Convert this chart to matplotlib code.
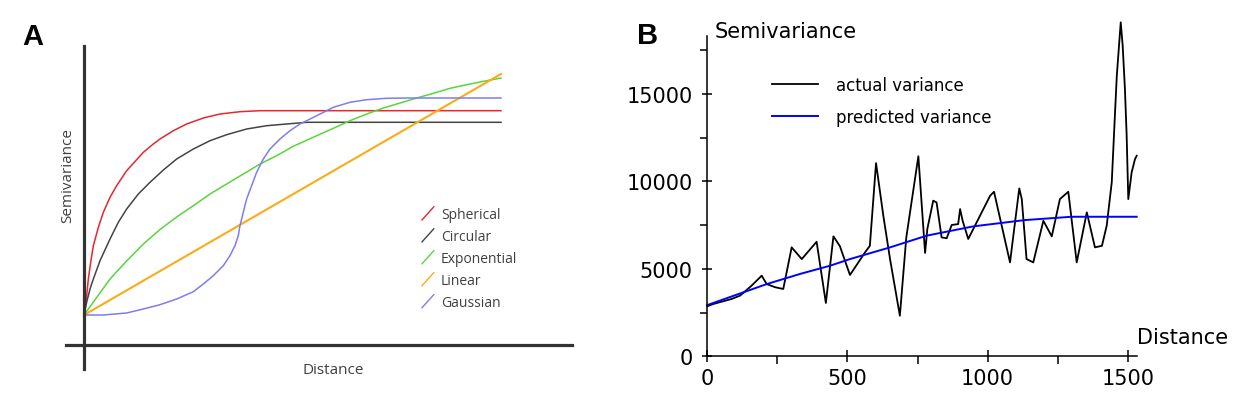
import matplotlib
matplotlib.use("Agg")
import matplotlib.pyplot as plt
from matplotlib.lines import Line2D
from matplotlib.legend_handler import HandlerBase

# ---- panel A: theoretical semivariogram models ----
spherical_d = [0, 0.048, 0.104, 0.16, 0.224, 0.344, 0.464, 0.624, 0.783, 1.023, 1.263,
               1.423, 1.663, 1.823, 2.143, 2.462, 2.862, 3.262, 3.741, 4.221, 10]
spherical_s = [3.0, 4.27, 6.6, 8.27, 9.93, 11.77, 13.27, 14.77, 15.93, 17.43, 18.53,
               19.27, 20.1, 20.6, 21.43, 22.1, 22.7, 23.1, 23.33, 23.43, 23.43]

circular_d = [0, 0.064, 0.144, 0.224, 0.384, 0.624, 0.823, 1.023, 1.303, 1.583, 1.903,
              2.222, 2.622, 3.022, 3.421, 3.901, 4.381, 4.861, 5.34, 10]
circular_s = [3.0, 4.27, 5.6, 6.6, 8.43, 10.6, 12.27, 13.6, 15.1, 16.27, 17.5,
              18.6, 19.6, 20.43, 21.03, 21.6, 21.93, 22.1, 22.27, 22.27]

exponential_d = [0, 0.624, 1.023, 1.423, 1.823, 2.222, 2.622, 3.022, 3.421, 3.821,
                 4.221, 4.62, 5.02, 5.58, 5.98, 6.38, 6.78, 7.18, 7.58, 7.98, 8.38,
                 8.78, 9.18, 9.58, 10]
exponential_s = [3.0, 6.6, 8.4, 10.1, 11.55, 12.8, 13.93, 15.1, 16.1, 17.1,
                 18.1, 18.93, 19.87, 20.93, 21.67, 22.43, 23.1, 23.7, 24.2, 24.7, 25.17,
                 25.67, 26.03, 26.37, 26.7]

linear_d = [0, 10]
linear_s = [3.0, 27.1]

gaussian_d = [0, 0.464, 1.023, 1.423, 1.823, 2.222, 2.622, 2.862, 3.10, 3.34, 3.50,
              3.62, 3.70, 3.74, 3.82, 3.90, 4.02, 4.14, 4.30, 4.46, 4.70, 4.94, 5.18,
              5.58, 5.98, 6.38, 6.78, 7.26, 7.8, 10]
gaussian_s = [3.0, 3.0, 3.2, 3.6, 4.03, 4.6, 5.33, 6.1, 6.93, 7.93, 8.93,
              9.93, 10.93, 11.93, 13.27, 14.6, 15.93, 17.27, 18.6, 19.6, 20.6, 21.43, 22.1,
              22.93, 23.77, 24.27, 24.53, 24.67, 24.7, 24.7]

model_names = ["Spherical", "Circular", "Exponential", "Linear", "Gaussian"]
model_colors = ["#e8262e", "#444444", "#5ad43c", "#fbab17", "#7d7df0"]

# ---- panel B: empirical vs fitted semivariance ----
actual_dist = [0, 21, 87, 117, 158, 194, 212, 242, 271, 301, 337, 390, 423, 450,
               473, 509, 563, 580, 602, 628, 652, 687, 710, 753, 777, 785, 806,
               818, 836, 854, 872, 895, 902, 911, 931, 1009, 1023, 1080, 1113,
               1122, 1139, 1163, 1199, 1229, 1258, 1288, 1318, 1354, 1383, 1408,
               1425, 1443, 1455, 1461, 1475, 1482, 1490, 1496, 1502, 1514, 1526, 1532]
actual_var = [2860, 2990, 3280, 3470, 4040, 4610, 4130, 3950, 3850, 6230, 5560,
              6550, 3050, 6860, 6300, 4650, 5950, 6320, 11050, 8040, 5560, 2320,
              6800, 11440, 5910, 7280, 8900, 8800, 6800, 6750, 7510, 7560, 8420,
              7750, 6710, 9180, 9410, 5370, 9600, 8990, 5560, 5370, 7750, 6860,
              8990, 9410, 5370, 8230, 6230, 6320, 7470, 9950, 14040, 16040, 19100,
              17760, 15280, 12710, 8990, 10520, 11280, 11470]

pred_dist = [0, 129, 212, 331, 438, 509, 652, 783, 949, 1133, 1300, 1532]
pred_var = [2930, 3660, 4130, 4710, 5180, 5560, 6230, 6900, 7430, 7790, 7980, 7980]

W, H = 1236, 402


class DiagonalHandler(HandlerBase):
    # legend key drawn as a short slanted stroke, like the original schematic
    def create_artists(self, legend, orig_handle, xdescent, ydescent,
                       width, height, fontsize, trans):
        x0, y0 = -xdescent, -ydescent - 0.2 * height
        ln = Line2D([x0, x0 + width], [y0, y0 + 1.35 * height],
                    color=orig_handle.get_color(), lw=1.0, transform=trans)
        return [ln]


fig = plt.figure(figsize=(W / 100, H / 100), dpi=100)

# ================= panel A =================
axA = fig.add_axes([63.15 / W, 31 / H, 512.9 / W, 325 / H])
axA.set_xlim(-0.5, 11.8)
axA.set_ylim(-2.5, 30)

series = [(spherical_d, spherical_s), (circular_d, circular_s),
          (exponential_d, exponential_s), (linear_d, linear_s),
          (gaussian_d, gaussian_s)]
handles = []
for (d, s), name, col in zip(series, model_names, model_colors):
    lw = 1.5 if name == "Linear" else 1.1
    h, = axA.plot(d, s, color=col, lw=lw, label=name, solid_joinstyle="round")
    handles.append(h)

for side in ["top", "right"]:
    axA.spines[side].set_visible(False)
axA.spines["left"].set_position(("data", 0))
axA.spines["bottom"].set_position(("data", 0))
axA.spines["left"].set_bounds(-2.4, 29.9)
axA.spines["bottom"].set_bounds(-0.42, 11.7)
for side in ["left", "bottom"]:
    axA.spines[side].set_linewidth(2.3)
    axA.spines[side].set_color("#333333")
axA.set_xticks([])
axA.set_yticks([])
axA.patch.set_alpha(0)

legA = axA.legend(handles=handles, handler_map={Line2D: DiagonalHandler()},
                  loc="upper left", bbox_to_anchor=(422 / W, 1 - 208 / H),
                  bbox_transform=fig.transFigure, frameon=False,
                  prop={"family": "Open Sans", "size": 10},
                  handlelength=0.85, handletextpad=0.5, labelspacing=0.5,
                  borderpad=0, borderaxespad=0)
for t in legA.get_texts():
    t.set_color("#404040")

fig.text(68 / W, 1 - 176 / H, "Semivariance", rotation=90, ha="center", va="center",
         family="Open Sans", fontsize=11, color="#404040")
fig.text(333 / W, 1 - 371 / H, "Distance", ha="center", va="center",
         family="Open Sans", fontsize=11, color="#404040")

# ================= panel B =================
axB = fig.add_axes([707.3 / W, (H - 357.3) / H, 429.4 / W, 320 / H])
axB.set_xlim(0, 1532)
axB.set_ylim(0, 18300)

axB.plot(actual_dist, actual_var, color="black", lw=1.3, clip_on=False,
         label="actual variance")
axB.plot(pred_dist, pred_var, color="#0000ff", lw=1.4, clip_on=False,
         label="predicted variance")

for side in ["top", "right"]:
    axB.spines[side].set_visible(False)
for side in ["left", "bottom"]:
    axB.spines[side].set_linewidth(1.1)

axB.set_xticks([0, 500, 1000, 1500])
axB.set_xticks([250, 750, 1250], minor=True)
axB.set_yticks([0, 5000, 10000, 15000])
axB.set_yticks([2500, 7500, 12500, 17500], minor=True)
axB.tick_params(axis="x", which="major", direction="inout", length=8.6, width=1.1,
                labelsize=15, pad=4)
axB.tick_params(axis="x", which="minor", direction="out", length=5.5, width=1.1)
axB.tick_params(axis="y", which="major", direction="inout", length=7.2, width=1.1,
                labelsize=15, pad=7)
axB.tick_params(axis="y", which="minor", direction="out", length=5, width=1.1)

axB.legend(loc="upper left", bbox_to_anchor=(771.7 / W, 1 - 77 / H),
           bbox_transform=fig.transFigure, frameon=False, fontsize=12,
           handlelength=2.8, handletextpad=1.06, labelspacing=0.85,
           borderpad=0, borderaxespad=0)

fig.text(715 / W, 1 - 32 / H, "Semivariance", ha="left", va="center", fontsize=15)
fig.text(1137 / W, 1 - 338 / H, "Distance", ha="left", va="center", fontsize=15)

# panel letters
fig.text(22 / W, 1 - 37 / H, "A", family="Liberation Sans", fontweight="bold",
         fontsize=21, ha="left", va="center")
fig.text(637 / W, 1 - 36 / H, "B", family="Liberation Sans", fontweight="bold",
         fontsize=21, ha="left", va="center")

fig.savefig("out.png", dpi=100, facecolor="white")
